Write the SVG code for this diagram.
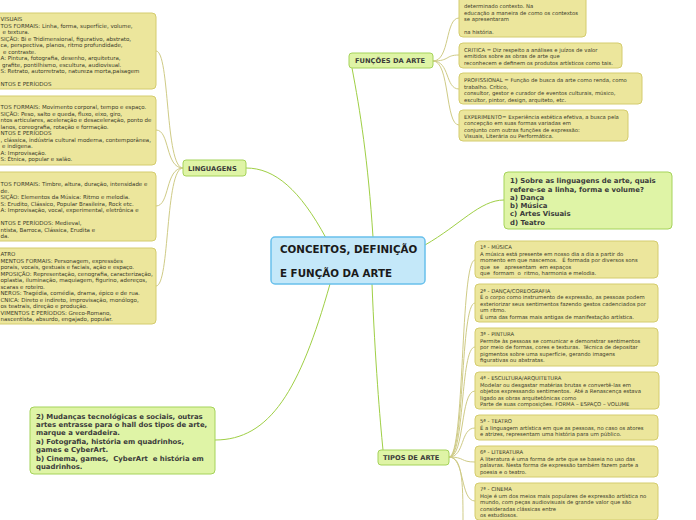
<svg xmlns="http://www.w3.org/2000/svg" width="696" height="520" viewBox="0 0 696 520">
<style>
text{white-space:pre}
.yb{fill:#ece69c;stroke:#d4cc6e;stroke-width:1}
.gb{fill:#dff4a6;stroke:#a5d35a;stroke-width:1}
.cb{fill:#c4e8f9;stroke:#68c0ec;stroke-width:1.5}
.t{font-family:"DejaVu Sans",Verdana,sans-serif;font-size:5.3px;fill:#3a3a2a}
.tl{font-family:"DejaVu Sans",Verdana,sans-serif;font-size:5.5px;fill:#3a3a2a}
.q{font-family:"DejaVu Sans",Verdana,sans-serif;font-size:6.9px;font-weight:bold;fill:#3a3a3a}
.l{font-family:"DejaVu Sans",Verdana,sans-serif;font-size:6.7px;font-weight:bold;fill:#3a3a3a}
.c{font-family:"DejaVu Sans",Verdana,sans-serif;font-size:10.3px;font-weight:bold;fill:#1a1a1a}
.cy{fill:none;stroke:#cfcb86;stroke-width:1}
.cg{fill:none;stroke:#9fcf45;stroke-width:1}
</style>
<rect width="696" height="520" fill="#ffffff"/>
<g id="connectors">
<path class="cg" d="M373,237 C368,160 360,110 352,68"/>
<path class="cg" d="M326,238 C300,190 275,168 246,168"/>
<path class="cg" d="M425,245 C460,225 480,200 504,200"/>
<path class="cg" d="M330,284 C300,390 270,440 215,440"/>
<path class="cg" d="M372,284 C375,360 380,420 383,450"/>
<path class="cy" d="M183,168 C165,168 170,51 156,51"/>
<path class="cy" d="M183,168 C165,168 170,130 156,130"/>
<path class="cy" d="M183,168 C165,168 170,206 156,206"/>
<path class="cy" d="M183,168 C165,168 170,286 156,286"/>
<path class="cy" d="M433,61 C450,61 445,18 459,18"/>
<path class="cy" d="M433,61 C450,61 445,55 459,55"/>
<path class="cy" d="M433,61 C450,61 445,89 459,89"/>
<path class="cy" d="M433,61 C450,61 445,125 459,125"/>
<path class="cy" d="M449,457 C465,457 460,260 475,260"/>
<path class="cy" d="M449,457 C465,457 460,303 475,303"/>
<path class="cy" d="M449,457 C465,457 460,347 475,347"/>
<path class="cy" d="M449,457 C465,457 460,391 475,391"/>
<path class="cy" d="M449,457 C465,457 460,428 475,428"/>
<path class="cy" d="M449,457 C465,457 460,462 475,462"/>
<path class="cy" d="M449,457 C465,457 460,501 475,501"/>
<path class="cy" d="M449,457 C462,457 463,480 463,520"/>
</g>
<g id="central">
<rect class="cb" x="271" y="237" width="154" height="47" rx="4"/>
<text class="c" x="280" y="253">CONCEITOS, DEFINIÇÃO</text>
<text class="c" x="280" y="277">E FUNÇÃO DA ARTE</text>
</g>
<g id="funcoes">
<rect class="gb" x="349" y="53" width="84" height="15" rx="3"/>
<text class="l" x="355" y="63">FUNÇÕES DA ARTE</text>
</g>
<g id="linguagens">
<rect class="gb" x="183" y="160" width="63" height="16" rx="3"/>
<text class="l" x="188" y="170.5">LINGUAGENS</text>
</g>
<g id="tipos">
<rect class="gb" x="378" y="450" width="71" height="15" rx="3"/>
<text class="l" x="383" y="460">TIPOS DE ARTE</text>
</g>
<g id="q1">
<rect class="gb" x="504" y="172" width="168" height="57" rx="4"/>
<text class="q" x="510" y="183">1) Sobre as linguagens de arte, quais</text>
<text class="q" x="510" y="191.5">refere-se a linha, forma e volume?</text>
<text class="q" x="510" y="199.5">a) Dança</text>
<text class="q" x="510" y="207.5">b) Música</text>
<text class="q" x="510" y="216">c) Artes Visuais</text>
<text class="q" x="510" y="224.5">d) Teatro</text>
</g>
<g id="q2">
<rect class="gb" x="30" y="407" width="185" height="67" rx="4"/>
<text class="q" x="36" y="418.5">2) Mudanças tecnológicas e sociais, outras</text>
<text class="q" x="36" y="426.5">artes entrasse para o hall dos tipos de arte,</text>
<text class="q" x="36" y="434.5">marque a verdadeira.</text>
<text class="q" x="36" y="443.5">a) Fotografia, história em quadrinhos,</text>
<text class="q" x="36" y="451.5">games e CyberArt.</text>
<text class="q" x="36" y="460.5">b) Cinema, games,  CyberArt  e história em</text>
<text class="q" x="36" y="469">quadrinhos.</text>
</g>
<g id="visuais">
<rect class="yb" x="-10" y="13" width="166" height="76" rx="4"/>
<text class="tl" x="0.5" y="21">VISUAIS</text>
<text class="tl" x="0.5" y="27.5">TOS FORMAIS: Linha, forma, superfície, volume,</text>
<text class="tl" x="2.5" y="34">e textura.</text>
<text class="tl" x="0.5" y="40.5">SIÇÃO: Bi e Tridimensional, figurativo, abstrato,</text>
<text class="tl" x="0.5" y="47">ca, perspectiva, planos, ritmo profundidade,</text>
<text class="tl" x="3" y="53.5">e contraste.</text>
<text class="tl" x="0.5" y="60">A: Pintura, fotografia, desenho, arquitetura,</text>
<text class="tl" x="2" y="66.5">grafite, pontilhismo, escultura, audiovisual.</text>
<text class="tl" x="0.5" y="73">S: Retrato, autorretrato, natureza morta,paisagem</text>
<text class="tl" x="0.5" y="86">NTOS E PERÍODOS</text>
</g>
<g id="danca">
<rect class="yb" x="-10" y="96" width="166" height="69" rx="4"/>
<text class="tl" x="0.5" y="109">TOS FORMAIS: Movimento corporal, tempo e espaço.</text>
<text class="tl" x="0.5" y="115.5">SIÇÃO: Peso, salto e queda, fluxo, eixo, giro,</text>
<text class="tl" x="0.5" y="122">ntos articulares, aceleração e desaceleração, ponto de</text>
<text class="tl" x="0.5" y="128.5">lanos, coreografia, rotação e formação.</text>
<text class="tl" x="0.5" y="135">NTOS E PERÍODOS</text>
<text class="tl" x="0.5" y="141.5">, clássica, indústria cultural moderna, contemporânea,</text>
<text class="tl" x="2" y="148">e indígena.</text>
<text class="tl" x="0.5" y="154.5">A: Improvisação.</text>
<text class="tl" x="0.5" y="161">S: Étnica, popular e salão.</text>
</g>
<g id="musica">
<rect class="yb" x="-10" y="172" width="166" height="69" rx="4"/>
<text class="tl" x="0.5" y="186">TOS FORMAIS: Timbre, altura, duração, intensidade e</text>
<text class="tl" x="0.5" y="192.5">de.</text>
<text class="tl" x="0.5" y="199">SIÇÃO: Elementos da Música: Ritmo e melodia.</text>
<text class="tl" x="0.5" y="205.5">S: Erudito, Clássico, Popular Brasileira, Rock etc.</text>
<text class="tl" x="0.5" y="212">A: Improvisação, vocal, experimental, eletrônica e</text>
<text class="tl" x="0.5" y="225">NTOS E PERÍODOS: Medieval,</text>
<text class="tl" x="0.5" y="231.5">ntista, Barroca, Clássica, Erudita e</text>
<text class="tl" x="0.5" y="238">da.</text>
</g>
<g id="teatro">
<rect class="yb" x="-10" y="248" width="166" height="76" rx="4"/>
<text class="tl" x="0.5" y="256">ATRO</text>
<text class="tl" x="0.5" y="262.5">MENTOS FORMAIS: Personagem, expressões</text>
<text class="tl" x="0.5" y="269">porais, vocais, gestuais e faciais, ação e espaço.</text>
<text class="tl" x="0.5" y="275.5">MPOSIÇÃO: Representação, cenografia, caracterização,</text>
<text class="tl" x="0.5" y="282">oplastia, iluminação, maquiagem, figurino, adereços,</text>
<text class="tl" x="0.5" y="288.5">scaras e roteiro.</text>
<text class="tl" x="0.5" y="295">NEROS: Tragédia, comédia, drama, épico e de rua.</text>
<text class="tl" x="0.5" y="301.5">CNICA: Direto e indireto, improvisação, monólogo,</text>
<text class="tl" x="0.5" y="308">os teatrais, direção e produção.</text>
<text class="tl" x="0.5" y="314.5">VIMENTOS E PERÍODOS: Greco-Romano,</text>
<text class="tl" x="0.5" y="321">nascentista, absurdo, engajado, popular.</text>
</g>
<g id="contexto">
<rect class="yb" x="459" y="-10" width="127" height="47" rx="4"/>
<text class="t" x="464" y="8">determinado contexto. Na</text>
<text class="t" x="464" y="14.5">educação a maneira de como os contextos</text>
<text class="t" x="464" y="21">se apresentaram</text>
<text class="t" x="464" y="34">na história.</text>
</g>
<g id="critica">
<rect class="yb" x="459" y="43" width="163" height="25" rx="4"/>
<text class="t" x="464" y="51.5">CRITICA = Diz respeito a análises e juízos de valor</text>
<text class="t" x="464" y="58">emitidos sobre as obras de arte que</text>
<text class="t" x="464" y="64.5">reconhecem e definem os produtos artísticos como tais.</text>
</g>
<g id="profissional">
<rect class="yb" x="459" y="73" width="183" height="31" rx="4"/>
<text class="t" x="464" y="82">PROFISSIONAL = Função de busca da arte como renda, como</text>
<text class="t" x="464" y="88.5">trabalho. Crítico,</text>
<text class="t" x="464" y="95">consultor, gestor e curador de eventos culturais, músico,</text>
<text class="t" x="464" y="101.5">escultor, pintor, design, arquiteto, etc.</text>
</g>
<g id="experimento">
<rect class="yb" x="459" y="110" width="169" height="31" rx="4"/>
<text class="t" x="464" y="118.5">EXPERIMENTO= Experiência estética efetiva, a busca pela</text>
<text class="t" x="464" y="125">concepção em suas formas variadas em</text>
<text class="t" x="464" y="131.5">conjunto com outras funções de expressão:</text>
<text class="t" x="464" y="138">Visuais, Literária ou Performática.</text>
</g>
<g id="tipo-musica">
<rect class="yb" x="475" y="241" width="183" height="37" rx="4"/>
<text class="t" x="480" y="249">1ª - MÚSICA</text>
<text class="t" x="480" y="255.5">A música está presente em nosso dia a dia a partir do</text>
<text class="t" x="480" y="262">momento em que nascemos.   É formada por diversos sons</text>
<text class="t" x="480" y="268.5">que  se   apresentam  em espaços</text>
<text class="t" x="480" y="275">que  formam  o  ritmo, harmonia e melodia.</text>
</g>
<g id="tipo-danca">
<rect class="yb" x="475" y="284" width="183" height="38" rx="4"/>
<text class="t" x="480" y="292.5">2ª - DANÇA/COREOGRAFIA</text>
<text class="t" x="480" y="299">É o corpo como instrumento de expressão, as pessoas podem</text>
<text class="t" x="480" y="305.5">exteriorizar seus sentimentos fazendo gestos cadenciados por</text>
<text class="t" x="480" y="312">um ritmo.</text>
<text class="t" x="480" y="318.5">É uma das formas mais antigas de manifestação artística.</text>
</g>
<g id="tipo-pintura">
<rect class="yb" x="475" y="328" width="183" height="38" rx="4"/>
<text class="t" x="480" y="336">3ª - PINTURA</text>
<text class="t" x="480" y="342.5">Permite às pessoas se comunicar e demonstrar sentimentos</text>
<text class="t" x="480" y="349">por meio de formas, cores e texturas.  Técnica de depositar</text>
<text class="t" x="480" y="355.5">pigmentos sobre uma superfície, gerando imagens</text>
<text class="t" x="480" y="362">figurativas ou abstratas.</text>
</g>
<g id="tipo-escultura">
<rect class="yb" x="475" y="372" width="184" height="37" rx="4"/>
<text class="t" x="480" y="380">4ª - ESCULTURA/ARQUITETURA</text>
<text class="t" x="480" y="386.5">Modelar ou desgastar matérias brutas e convertê-las em</text>
<text class="t" x="480" y="393">objetos expressando sentimentos.  Até a Renascença estava</text>
<text class="t" x="480" y="399.5">ligado as obras arquitetônicas como</text>
<text class="t" x="480" y="406">Parte de suas composições. FORMA – ESPAÇO – VOLUME</text>
</g>
<g id="tipo-teatro">
<rect class="yb" x="475" y="415" width="183" height="25" rx="4"/>
<text class="t" x="480" y="423">5ª - TEATRO</text>
<text class="t" x="480" y="429.5">É a linguagem artística em que as pessoas, no caso os atores</text>
<text class="t" x="480" y="436">e atrizes, representam uma história para um público.</text>
</g>
<g id="tipo-literatura">
<rect class="yb" x="475" y="446" width="183" height="31" rx="4"/>
<text class="t" x="480" y="454">6ª - LITERATURA</text>
<text class="t" x="480" y="460.5">A literatura é uma forma de arte que se baseia no uso das</text>
<text class="t" x="480" y="467">palavras. Nesta forma de expressão também fazem parte a</text>
<text class="t" x="480" y="473.5">poesia e o teatro.</text>
</g>
<g id="tipo-cinema">
<rect class="yb" x="475" y="483" width="183" height="37" rx="4"/>
<text class="t" x="480" y="491">7ª - CINEMA</text>
<text class="t" x="480" y="497.5">Hoje é um dos meios mais populares de expressão artística no</text>
<text class="t" x="480" y="504">mundo, com peças audiovisuais de grande valor que são</text>
<text class="t" x="480" y="510.5">consideradas clássicas entre</text>
<text class="t" x="480" y="517">os estudiosos.</text>
</g>
</svg>
